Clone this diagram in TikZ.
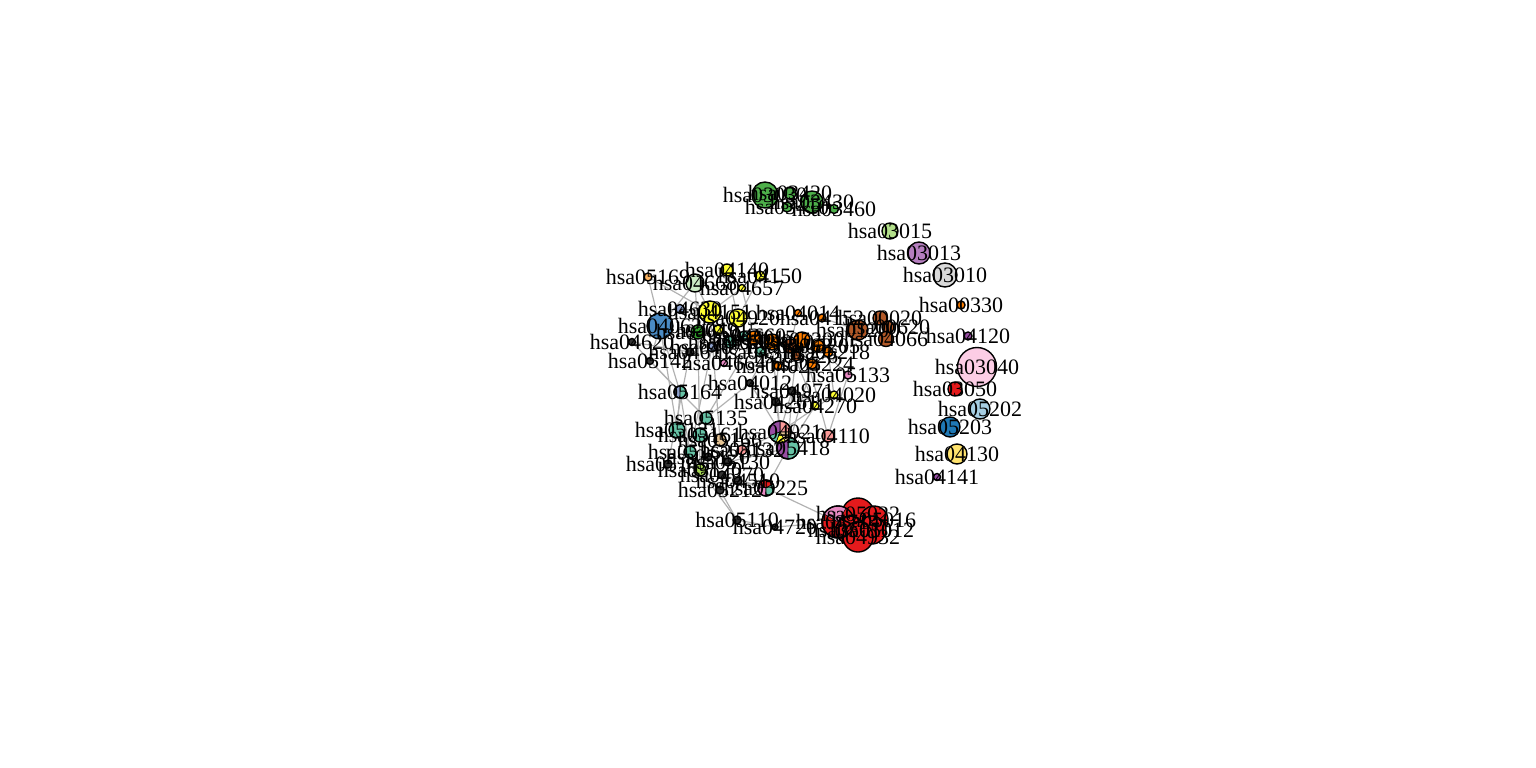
\documentclass[tikz,border=0pt]{standalone}
\usepackage{fontspec}
\setmainfont{Liberation Serif}
\usetikzlibrary{backgrounds}
\definecolor{cGrn}{HTML}{4DAF4A}
\definecolor{cDgrn}{HTML}{33A02C}
\definecolor{cLgrn}{HTML}{B2DF8A}
\definecolor{cPgrn}{HTML}{CCEBC5}
\definecolor{cYgrn}{HTML}{A6D854}
\definecolor{cOrch}{HTML}{B57EBF}
\definecolor{cPurp}{HTML}{984EA3}
\definecolor{cGry}{HTML}{D9D9D9}
\definecolor{cOrg}{HTML}{FF7F00}
\definecolor{cLorg}{HTML}{FDB462}
\definecolor{cPnk}{HTML}{FCCDE5}
\definecolor{cPnk2}{HTML}{E78AC3}
\definecolor{cRed}{HTML}{E41A1C}
\definecolor{cSalm}{HTML}{FB9A99}
\definecolor{cLblu}{HTML}{A6CEE3}
\definecolor{cBlu}{HTML}{1F78B4}
\definecolor{cStl}{HTML}{4A8BC4}
\definecolor{cPeri}{HTML}{8DA0CB}
\definecolor{cTeal}{HTML}{66C2A5}
\definecolor{cYlw}{HTML}{FFE36D}
\definecolor{cYel}{HTML}{FFFF33}
\definecolor{cBrn}{HTML}{B15928}
\definecolor{cTan}{HTML}{E5C494}
\definecolor{cDark}{HTML}{333333}
\tikzset{
  vx/.style={circle,draw=black,line width=1.4pt,inner sep=0pt},
  lbl/.style={font=\fontsize{22}{22}\selectfont,inner sep=0pt},
  lnk/.style={draw=black!30,line width=1.2pt}
}
\newcommand{\pieseg}[5]{\filldraw[fill=#5,draw=black,line width=0.6pt] (#1.center) -- ++(#2:#4pt) arc[start angle=#2,end angle=#3,radius=#4pt] -- cycle;}
\newcommand{\vlist}{%
hsa03030/765/195/26/cGrn, hsa03420/790/193/12/cGrn, hsa03410/787/207/10/cGrn,
hsa03430/812/202/22/cGrn, hsa03460/834/209/9/cGrn,
hsa03015/890/231/16/cLgrn, hsa03013/919/253/22/cOrch, hsa03010/945/275/24/cGry,
hsa00330/961/305/8/cOrg, hsa04120/968/336/8/cPurp, hsa03040/977/367/39/cPnk,
hsa03050/955/389/14/cRed, hsa05202/980/409/20/cLblu, hsa05203/950/427/20/cBlu,
hsa04130/957/454/20/cYlw, hsa04141/937/477/7/cPurp,
hsa00020/880/318/14/cBrn, hsa00620/888/327/12/cBrn, hsa01200/858/330/20/cBrn,
hsa04066/886/339/15/cBrn,
hsa05169/648/277/8/cLorg, hsa04668/695/283/18/cPgrn, hsa04140/727/270/12/cYel,
hsa04150/760/276/10/cYel, hsa04657/742/288/7/cYel, hsa04630/680/309/9/cPeri,
hsa04151/710/312/22/cYel, hsa04920/738/318/18/cYel, hsa04014/798/313/7/cOrg,
hsa04152/822/318/8/cOrg, hsa04062/660/326/26/cStl, hsa04620/632/342/7/cDark,
hsa05142/650/361/7/cDark, hsa04650/698/332/14/cDgrn, hsa04915/718/330/10/cYel,
hsa04611/690/352/8/cDark, hsa04072/730/342/12/cTeal, hsa04660/744/336/10/cTeal,
hsa04071/712/347/10/cPeri, hsa04664/724/363/7/cPnk2, hsa04015/754/338/14/cOrg,
hsa04010/772/342/16/cOrg, hsa04310/760/352/10/cTeal, hsa04068/790/346/14/cBrn,
hsa05200/802/340/16/cOrg, hsa05205/818/346/12/cOrg, hsa05226/796/356/10/cBrn,
hsa04024/778/366/8/cOrg, hsa05218/828/352/10/cOrg, hsa05224/812/364/10/cOrg,
hsa05133/848/375/8/cPnk2, hsa04012/750/383/7/cDark, hsa04971/792/391/8/cDark,
hsa04020/834/395/8/cYel, hsa04261/776/402/8/cDark, hsa04270/815/406/8/cYel,
hsa05164/680/392/12/cPeri, hsa05135/706/418/12/cTeal, hsa04921/780/432/22/cPurp,
hsa05418/788/448/22/cPurp, hsa04110/828/436/12/cSalm,
hsa05131/677/430/16/cTeal, hsa05161/700/435/14/cTeal, hsa05166/720/440/12/cTan,
hsa05132/742/450/10/cSalm, hsa05162/690/452/12/cTeal, hsa05120/708/457/8/cDark,
hsa05130/728/462/8/cDark, hsa05145/668/464/8/cDark, hsa05170/700/470/12/cYgrn,
hsa04370/722/475/8/cDark, hsa04510/738/481/8/cDark, hsa05212/720/490/8/cDark,
hsa05225/766/488/16/cRed, hsa05110/737/520/8/cDark, hsa04720/775/527/6/cDark,
hsa04714/838/522/32/cRed, hsa05022/858/514/32/cRed, hsa05016/874/520/28/cRed,
hsa05012/872/530/28/cRed, hsa05010/850/530/28/cRed, hsa04932/858/537/30/cRed}

\begin{document}
\begin{tikzpicture}[x=1pt,y=-1pt]
\useasboundingbox (0,0) rectangle (1536,768);

% vertices
\foreach \n/\x/\y/\d/\c in \vlist
  \node[vx,minimum size=\d pt,fill=\c] (\n) at (\x,\y) {};

% pie vertices
\pieseg{hsa04921}{0}{90}{11}{cSalm}
\pieseg{hsa04921}{90}{200}{11}{cPurp}
\pieseg{hsa04921}{200}{250}{11}{cTeal}
\pieseg{hsa04921}{250}{300}{11}{cYel}
\pieseg{hsa04921}{300}{360}{11}{cTan}
\pieseg{hsa05418}{270}{450}{11}{cTeal}
\pieseg{hsa05225}{30}{150}{8}{cRed}
\pieseg{hsa05225}{150}{270}{8}{cPnk2}
\pieseg{hsa05225}{270}{390}{8}{cTeal}
\pieseg{hsa05164}{270}{450}{6}{cTeal}
\pieseg{hsa04714}{60}{150}{16}{cPnk2}
\foreach \n/\r in {hsa04921/11,hsa05418/11,hsa05225/8,hsa05164/6,hsa04714/16}
  \draw[line width=1.4pt] (\n.center) circle[radius=\r pt];

% labels on top
\foreach \n/\x/\y/\d/\c in \vlist
  \node[lbl] at (\n) {\n};

% edges
\begin{scope}[on background layer]
\foreach \a/\b in {hsa05169/hsa04062, hsa05169/hsa04151, hsa04668/hsa04062,
  hsa04668/hsa04650, hsa04668/hsa04151, hsa04140/hsa04920, hsa04150/hsa04920,
  hsa04657/hsa04015, hsa04657/hsa04151, hsa04620/hsa05164, hsa05142/hsa05164,
  hsa04062/hsa05164, hsa04062/hsa05131, hsa05164/hsa05135, hsa05164/hsa05162,
  hsa05164/hsa05131, hsa05135/hsa05166, hsa05135/hsa04012, hsa04012/hsa04921,
  hsa04261/hsa04921, hsa04971/hsa04921, hsa04971/hsa05418, hsa04270/hsa05418,
  hsa04020/hsa04921, hsa05133/hsa04110, hsa04010/hsa04012, hsa04010/hsa04921,
  hsa05200/hsa04110, hsa05224/hsa05418, hsa04015/hsa05135, hsa04071/hsa05162,
  hsa04650/hsa05170, hsa04151/hsa05166, hsa05132/hsa04921, hsa05130/hsa05418,
  hsa04510/hsa05225, hsa05212/hsa05110, hsa05170/hsa05110, hsa05110/hsa04720,
  hsa04720/hsa04714, hsa05225/hsa04714, hsa05225/hsa05418, hsa04370/hsa05225,
  hsa04611/hsa05145, hsa05131/hsa05212, hsa04062/hsa05142, hsa04620/hsa04611,
  hsa04630/hsa04151, hsa04024/hsa04261, hsa05226/hsa04971, hsa04068/hsa04270,
  hsa05218/hsa04020, hsa05205/hsa05133, hsa04152/hsa01200, hsa04014/hsa04068}
  \draw[lnk] (\a) -- (\b);
\end{scope}
\end{tikzpicture}
\end{document}
